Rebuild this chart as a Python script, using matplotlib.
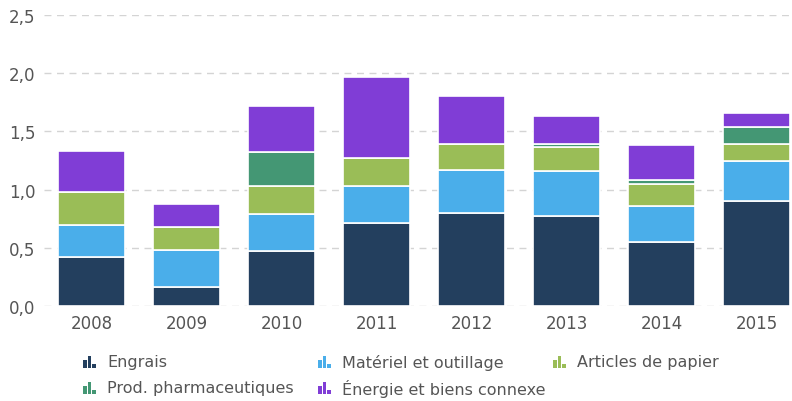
import matplotlib
matplotlib.use('Agg')
import matplotlib.pyplot as plt
from matplotlib.patches import Rectangle
import numpy as np

plt.rcParams['font.family'] = ['DejaVu Sans']

# Données
annees = ['2008', '2009', '2010', '2011', '2012', '2013', '2014', '2015']
engrais = [0.42, 0.16, 0.47, 0.71, 0.80, 0.77, 0.55, 0.90]
materiel = [0.28, 0.32, 0.32, 0.32, 0.37, 0.39, 0.31, 0.35]
papier = [0.28, 0.20, 0.24, 0.24, 0.22, 0.21, 0.19, 0.14]
pharma = [0.00, 0.00, 0.29, 0.00, 0.00, 0.02, 0.03, 0.15]
energie = [0.35, 0.20, 0.40, 0.70, 0.41, 0.24, 0.30, 0.12]

series = [
    ('Engrais', engrais, '#233f5e'),
    ('Matériel et outillage', materiel, '#4aaeea'),
    ('Articles de papier', papier, '#9abd57'),
    ('Prod. pharmaceutiques', pharma, '#449774'),
    ('Énergie et biens connexe', energie, '#803dd6'),
]

W, H = 792, 402
fig = plt.figure(figsize=(W / 100, H / 100), dpi=100)
ax = fig.add_axes([44 / W, 1 - 307 / H, (W - 44) / W, (307 - 16) / H])

x = np.arange(len(annees))
bas = np.zeros(len(annees))
for nom, vals, couleur in series:
    vals = np.array(vals)
    ax.bar(x, vals, width=0.705, bottom=bas, color=couleur,
           edgecolor='white', linewidth=1.2, zorder=3)
    bas += vals

ax.set_xlim(-0.5, 7.37)
ax.set_ylim(0, 2.5)
ax.set_yticks(np.arange(0, 2.51, 0.5))
ax.set_yticklabels([f'{v:.1f}'.replace('.', ',') for v in np.arange(0, 2.51, 0.5)])
ax.set_xticks(x)
ax.set_xticklabels(annees)
ax.tick_params(axis='both', length=0, labelsize=12, colors='#555555')
ax.tick_params(axis='y', pad=6)
ax.tick_params(axis='x', pad=6)
ax.grid(axis='y', color='#d4d4d4', linestyle=(0, (5, 4)), linewidth=1, zorder=0)
for s in ax.spines.values():
    s.set_visible(False)

# Légende dessinée à la main (grille 3 colonnes)
pos = [(83, 363), (318, 363), (553, 363), (83, 389), (318, 389)]


def icone(px, py, couleur):
    hauteurs = [0.65, 1.0, 0.3]
    for i, h in enumerate(hauteurs):
        fig.add_artist(Rectangle(((px + i * 4.5) / W, 1 - (py + 6) / H),
                                 3.7 / W, 12 * h / H,
                                 transform=fig.transFigure, color=couleur, lw=0))


for (nom, vals, couleur), (px, py) in zip(series, pos):
    icone(px, py, couleur)
    fig.text((px + 24) / W, 1 - py / H, nom, fontsize=11.5, color='#555555',
             va='center', ha='left')

plt.savefig('out.png', dpi=100)
